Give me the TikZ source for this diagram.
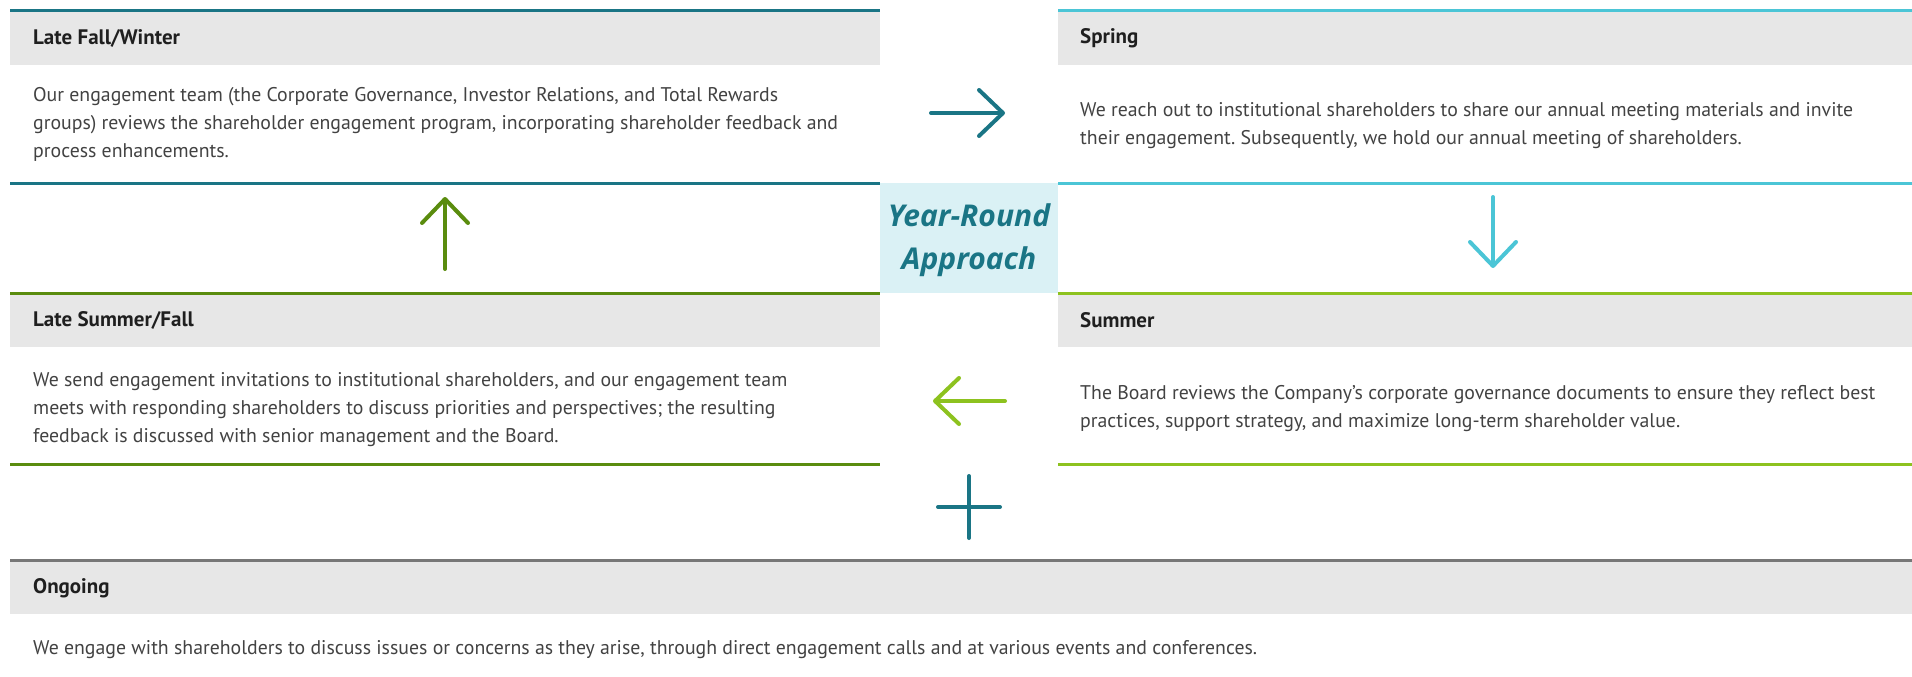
\documentclass[tikz,border=0pt]{standalone}
\usepackage{fontspec}
\setmainfont{PT Sans}
\newfontfamily\calloutfont{Open Sans}
\usepackage{xcolor}
\usetikzlibrary{arrows.meta}

\definecolor{fallteal}{HTML}{1A7585}
\definecolor{springcyan}{HTML}{4BC5D6}
\definecolor{lategreen}{HTML}{5A8C0E}
\definecolor{summerlime}{HTML}{8DC21F}
\definecolor{ongoinggray}{HTML}{777777}
\definecolor{headgray}{HTML}{E7E7E7}
\definecolor{centerblue}{HTML}{DAF1F5}

\begin{document}
\frenchspacing
\begin{tikzpicture}[x=1pt,y=-1pt,
  rule/.style={line width=3pt},
  head/.style={anchor=west,inner sep=0pt,font=\fontsize{21}{25}\selectfont\bfseries,text=black!88},
  body/.style={anchor=west,inner sep=0pt,align=left,font=\fontsize{19.8}{28}\selectfont,text=black!74},
  icon/.style={line width=4pt,line cap=round,-{Straight Barb[length=24pt,width=46pt,round]}}]
  \useasboundingbox (0,0) rectangle (1912,677);

  % grey title bands, then the coloured rules above and below each block
  \foreach \xa/\xb/\ya in {10/880/11,1058/1912/11,10/880/293,1058/1912/293,10/1912/560}
    \fill[headgray] (\xa,\ya) rectangle (\xb,\ya+54);
  \foreach \xa/\xb/\ya/\yb/\c in {10/880/11/183/fallteal,1058/1912/11/183/springcyan,
                                  10/880/293/464/lategreen,1058/1912/293/464/summerlime}
    \draw[rule,\c] (\xa,\ya)--(\xb,\ya) (\xa,\yb)--(\xb,\yb);
  \draw[rule,ongoinggray] (10,560)--(1912,560);

  % centre label
  \node[fill=centerblue,minimum width=178pt,minimum height=110pt,inner sep=0pt,align=center,
        font=\calloutfont\fontsize{30}{43}\selectfont\bfseries\itshape,text=fallteal] (yearround) at (969,238) {};
  \node[inner sep=0pt,align=center,font=\calloutfont\fontsize{30}{43}\selectfont\bfseries\itshape,
        text=fallteal] (yearroundtxt) at (969,240) {Year-Round\\Approach};

  % titles
  \node[head] (fallhead) at (33,38) {Late Fall/Winter};
  \node[head] (springhead) at (1080,38) {Spring};
  \node[head] (latehead) at (33,320) {Late Summer/Fall};
  \node[head] (summerhead) at (1080,320) {Summer};
  \node[head] (ongoinghead) at (33,588) {Ongoing};

  % texts
  \node[body] (fallbody) at (33,124) {Our engagement team (the Corporate Governance, Investor Relations, and Total Rewards\\
    groups) reviews the shareholder engagement program, incorporating shareholder feedback and\\
    process enhancements.};
  \node[body] (springbody) at (1080,126) {We reach out to institutional shareholders to share our annual meeting materials and invite\\
    their engagement. Subsequently, we hold our annual meeting of shareholders.};
  \node[body] (latebody) at (33,410) {We send engagement invitations to institutional shareholders, and our engagement team\\
    meets with responding shareholders to discuss priorities and perspectives; the resulting\\
    feedback is discussed with senior management and the Board.};
  \node[body] (summerbody) at (1080,409) {The Board reviews the Company’s corporate governance documents to ensure they reflect best\\
    practices, support strategy, and maximize long-term shareholder value.};
  \node[body] (ongoingbody) at (33,650) {We engage with shareholders to discuss issues or concerns as they arise, through direct engagement calls and at various events and conferences.};

  % cycle arrows and the plus sign
  \coordinate (r0) at (931,113);  \coordinate (r1) at (1005,113);
  \coordinate (d0) at (1493,197); \coordinate (d1) at (1493,268);
  \coordinate (l0) at (1005,401); \coordinate (l1) at (933,401);
  \coordinate (u0) at (445,269);  \coordinate (u1) at (445,197);
  \draw[icon,fallteal] (r0)--(r1);
  \draw[icon,springcyan] (d0)--(d1);
  \draw[icon,summerlime] (l0)--(l1);
  \draw[icon,lategreen] (u0)--(u1);
  \draw[line width=4pt,line cap=round,fallteal] (969,476)--(969,538) (938,507)--(1000,507);
\end{tikzpicture}
\end{document}
